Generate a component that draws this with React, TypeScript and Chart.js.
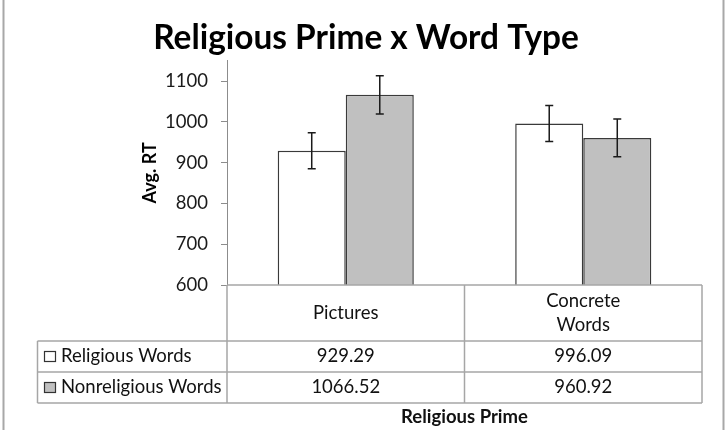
import React, { useEffect, useRef } from "react";
import { Chart, registerables } from "chart.js";

Chart.register(...registerables);

const TITLE = "Religious Prime x Word Type";
const X_TITLE = "Religious Prime";
const Y_TITLE = "Avg. RT";
const CATEGORIES: (string | string[])[] = ["Pictures", ["Concrete", "Words"]];
const SERIES_NAMES = ["Religious Words", "Nonreligious Words"];
const RELIGIOUS = [929.29, 996.09];
const NONRELIGIOUS = [1066.52, 960.92];
const RELIGIOUS_ERR = [44, 44];
const NONRELIGIOUS_ERR = [47, 46];
const TABLE_TEXT = [
  ["929.29", "996.09"],
  ["1066.52", "960.92"],
];
const Y_MIN = 600;
const Y_MAX = 1150;
const Y_STEP = 100;

const FONT = "Lato, 'Noto Sans', sans-serif";
const BODY_SIZE = 18.5;
const FILLS = ["#ffffff", "#c0c0c0"];
const ERRORS = [RELIGIOUS_ERR, NONRELIGIOUS_ERR];

const overlay = {
  id: "overlay",
  beforeDraw(chart: any) {
    const ctx = chart.ctx;
    ctx.save();
    ctx.fillStyle = "#ffffff";
    ctx.fillRect(0, 0, chart.width, chart.height);
    ctx.strokeStyle = "#a8a8a8";
    ctx.lineWidth = 2;
    ctx.beginPath();
    ctx.moveTo(3.5, 0);
    ctx.lineTo(3.5, chart.height);
    ctx.moveTo(723.5, 0);
    ctx.lineTo(723.5, chart.height);
    ctx.stroke();
    ctx.restore();
  },
  afterDraw(chart: any) {
    const ctx = chart.ctx;
    const area = chart.chartArea;
    const yScale = chart.scales.y;
    const xScale = chart.scales.x;
    ctx.save();
    // error bars
    ctx.strokeStyle = "#1a1a1a";
    ctx.lineWidth = 1.5;
    chart.data.datasets.forEach((ds: any, di: number) => {
      const meta = chart.getDatasetMeta(di);
      meta.data.forEach((bar: any, i: number) => {
        const v = ds.data[i];
        const e = ERRORS[di][i];
        const yt = yScale.getPixelForValue(v + e);
        const yb = yScale.getPixelForValue(v - e);
        const x = bar.x;
        ctx.beginPath();
        ctx.moveTo(x, yt);
        ctx.lineTo(x, yb);
        ctx.moveTo(x - 4, yt);
        ctx.lineTo(x + 4, yt);
        ctx.moveTo(x - 4, yb);
        ctx.lineTo(x + 4, yb);
        ctx.stroke();
      });
    });

    // data table
    const n = CATEGORIES.length;
    const catW = (xScale.right - xScale.left) / n;
    const top = area.bottom;
    const headerBottom = top + 56;
    const rowH = 31;
    const tableBottom = headerBottom + rowH * 2;
    const tableLeft = 37.5;
    ctx.strokeStyle = "#a6a6a6";
    ctx.lineWidth = 1.5;
    ctx.beginPath();
    ctx.moveTo(xScale.left, top);
    ctx.lineTo(xScale.right, top);
    for (let r = 0; r <= 2; r++) {
      const y = headerBottom + rowH * r;
      ctx.moveTo(tableLeft, y);
      ctx.lineTo(xScale.right, y);
    }
    for (let c = 0; c <= n; c++) {
      const x = xScale.left + catW * c;
      ctx.moveTo(x, top);
      ctx.lineTo(x, tableBottom);
    }
    ctx.moveTo(tableLeft, headerBottom);
    ctx.lineTo(tableLeft, tableBottom);
    ctx.stroke();

    ctx.fillStyle = "#111111";
    ctx.font = `${BODY_SIZE}px ${FONT}`;
    ctx.textAlign = "center";
    ctx.textBaseline = "middle";
    CATEGORIES.forEach((lab, i) => {
      const cx = xScale.getPixelForValue(i);
      const lines = Array.isArray(lab) ? lab : [lab];
      const lh = 24;
      const cy = (top + headerBottom) / 2 + 0.5;
      lines.forEach((t, j) => {
        ctx.fillText(t, cx, cy + (j - (lines.length - 1) / 2) * lh);
      });
    });
    TABLE_TEXT.forEach((row, r) => {
      const cy = headerBottom + rowH * r + rowH / 2;
      row.forEach((t, i) => {
        ctx.fillText(t, xScale.getPixelForValue(i), cy);
      });
    });
    // legend keys
    ctx.textAlign = "left";
    SERIES_NAMES.forEach((name, r) => {
      const cy = headerBottom + rowH * r + rowH / 2;
      ctx.fillStyle = FILLS[r];
      ctx.fillRect(44.5, cy - 5, 11, 10);
      ctx.strokeStyle = "#333333";
      ctx.lineWidth = 1.2;
      ctx.strokeRect(44.5, cy - 5, 11, 10);
      ctx.fillStyle = "#111111";
      ctx.fillText(name, 61, cy);
    });
    // x axis title
    ctx.font = `bold ${BODY_SIZE}px ${FONT}`;
    ctx.textAlign = "center";
    ctx.fillText(X_TITLE, (area.left + area.right) / 2, 417);
    ctx.restore();
  },
};

export default function App() {
  const ref = useRef<HTMLCanvasElement | null>(null);
  useEffect(() => {
    if (!ref.current) return;
    const chart = new Chart(ref.current, {
      type: "bar",
      data: {
        labels: CATEGORIES as any,
        datasets: [
          {
            label: SERIES_NAMES[0],
            data: RELIGIOUS,
            backgroundColor: FILLS[0],
            borderColor: "#3a3a3a",
            borderWidth: 1.5,
            categoryPercentage: 0.573,
            barPercentage: 1,
          },
          {
            label: SERIES_NAMES[1],
            data: NONRELIGIOUS,
            backgroundColor: FILLS[1],
            borderColor: "#3a3a3a",
            borderWidth: 1.5,
            categoryPercentage: 0.573,
            barPercentage: 1,
          },
        ],
      },
      options: {
        animation: false,
        responsive: false,
        devicePixelRatio: 1,
        layout: { padding: { left: 4, right: 0, top: 0, bottom: 145 } },
        plugins: {
          legend: { display: false },
          tooltip: { enabled: false },
          title: {
            display: true,
            text: TITLE,
            color: "#000000",
            font: { family: FONT, size: 33.4, weight: "bold" },
            padding: { top: 17.96, bottom: 2.76 },
          },
        },
        scales: {
          x: { display: false },
          y: {
            min: Y_MIN,
            max: Y_MAX,
            afterFit(scale: any) {
              scale.width = 223;
            },
            afterBuildTicks(scale: any) {
              scale.ticks = scale.ticks.filter((t: any) => t.value % Y_STEP === 0);
            },
            ticks: {
              stepSize: Y_STEP,
              includeBounds: false,
              padding: 13,
              color: "#1a1a1a",
              font: { family: FONT, size: BODY_SIZE },
              callback: (v: any) => String(v),
            },
            grid: {
              drawOnChartArea: false,
              drawTicks: true,
              tickLength: 6,
              color: "#8c8c8c",
            },
            border: { display: true, color: "#8c8c8c", width: 1 },
            title: {
              display: true,
              text: Y_TITLE,
              color: "#000000",
              font: { family: FONT, size: 18, weight: "bold" },
              padding: { top: 135.7, bottom: 0 },
            },
          },
          spacer: {
            type: "linear",
            position: "right",
            display: true,
            afterFit(scale: any) {
              scale.width = 26;
            },
            ticks: { display: false },
            grid: { display: false, drawTicks: false },
            border: { display: false },
          },
        },
      },
      plugins: [overlay],
    });
    return () => chart.destroy();
  }, []);
  return (
    <div style={{ position: "fixed", left: 0, top: 0, width: 728, height: 430, background: "#fff" }}>
      <canvas ref={ref} width={728} height={430} style={{ display: "block" }} />
    </div>
  );
}
